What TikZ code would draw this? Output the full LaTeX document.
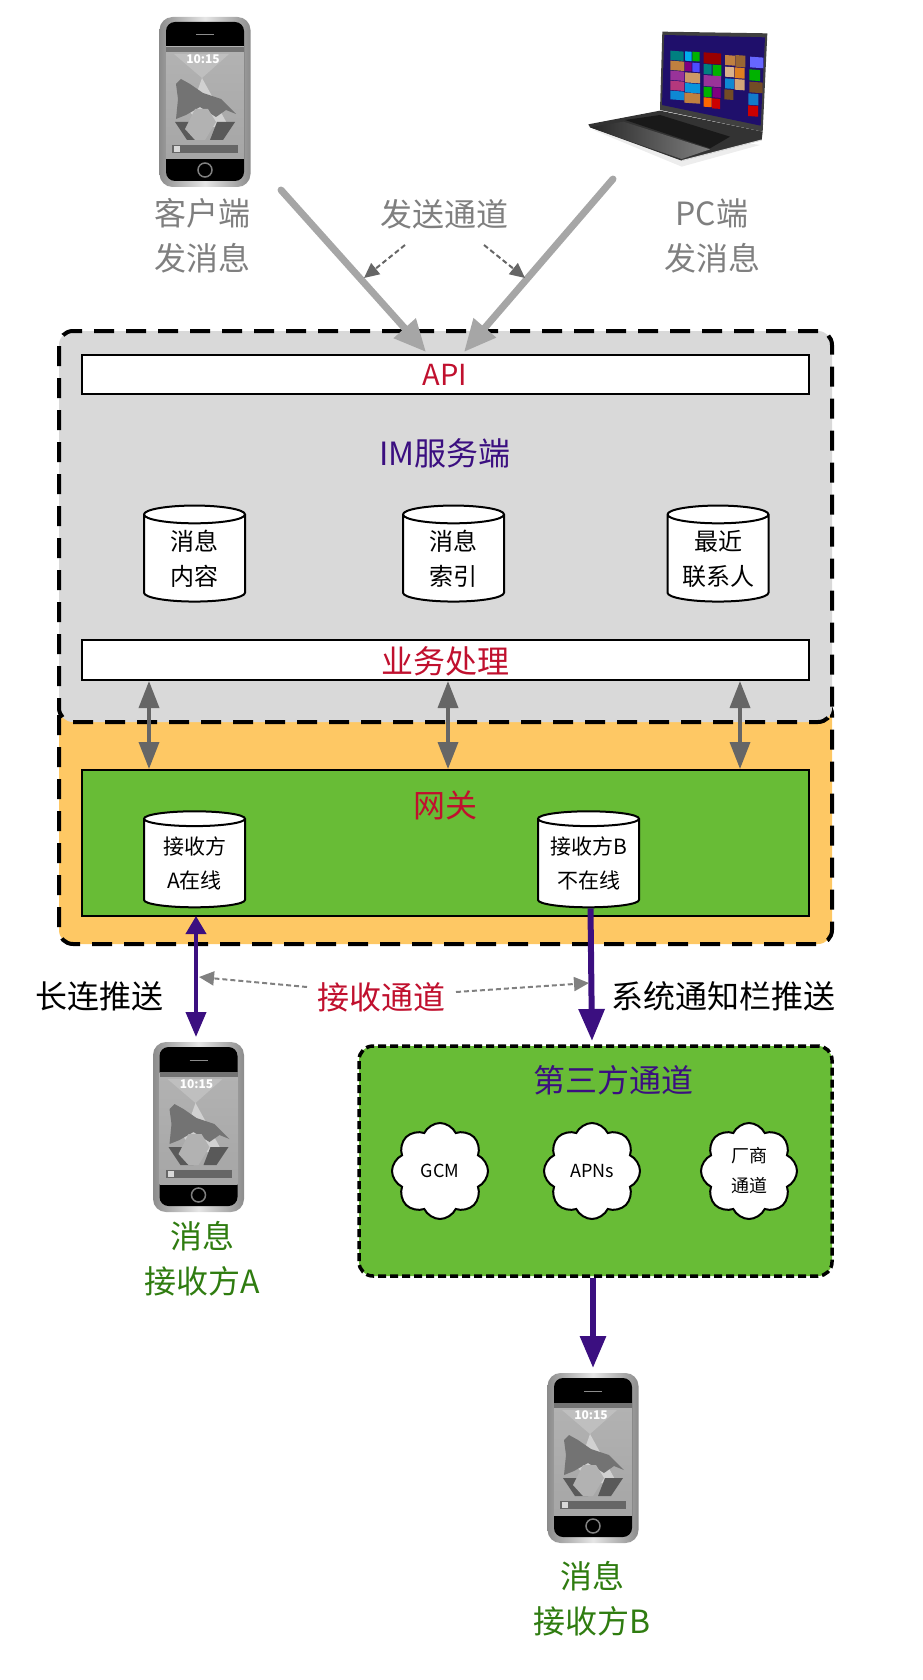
\documentclass[tikz,border=0pt]{standalone}
\usepackage{fontspec}
\setmainfont{Noto Sans CJK SC}
\usetikzlibrary{arrows.meta, shapes.geometric, shapes.symbols}

\definecolor{boxgrey}{HTML}{D9D9D9}
\definecolor{gateorange}{HTML}{FEC864}
\definecolor{gategreen}{HTML}{68BC36}
\definecolor{labelred}{HTML}{C0102E}
\definecolor{labelpurple}{HTML}{3B0F80}
\definecolor{labelgreen}{HTML}{2F7C10}
\definecolor{labelgrey}{HTML}{7F7F7F}
\definecolor{screenblue}{HTML}{1F0F6B}

\tikzset{
	bigtext/.style = {font = \fontsize{32}{45}\selectfont, align = center, inner sep = 0},
	midtext/.style = {font = \fontsize{24}{35}\selectfont, align = center, inner sep = 0},
	smalltext/.style = {font = \fontsize{18}{30}\selectfont, align = center, inner sep = 0},
	outerbox/.style = {draw, rectangle, rounded corners = 14, line width = 4, dash pattern = on 20 off 12, inner sep = 0},
	barbox/.style = {draw, rectangle, line width = 2, fill = white, inner sep = 0, minimum width = 727},
	store/.style = {draw, cylinder, shape border rotate = 90, aspect = 0.37, fill = white, line width = 2, inner sep = 0, minimum width = 101, minimum height = 96, midtext},
	puff/.style = {draw, cloud, cloud puffs = 8, cloud puff arc = 130, fill = white, line width = 2, inner sep = 0, minimum width = 96, minimum height = 96, smalltext},
	phonebody/.style = {rectangle, rounded corners = 13, minimum width = 91, minimum height = 170, inner sep = 0, left color = black!45, right color = black!45, middle color = black!10},
	sendline/.style = {-{Triangle[length = 32, width = 28]}, line width = 7, line cap = round, black!35},
	noteline/.style = {-{Triangle[length = 15, width = 14]}, line width = 2, dash pattern = on 5 off 3},
	linkline/.style = {{Triangle[length = 27, width = 20]}-{Triangle[length = 27, width = 20]}, line width = 3.5, black!60},
	pushline/.style = {-{Triangle[length = 32, width = 25]}, line width = 6, labelpurple},
	phonepic/.pic = {
		\fill [black, rounded corners = 9] (-39, -80) rectangle (39, 79);
		\fill [top color = black!30, middle color = white, bottom color = black!35] (-39, -55) rectangle (39, 57);
		\fill [black!55] (-39, -55) rectangle (39, -50);
		\draw [black!45, line width = 1] (-9, -67) -- (9, -67);
		\fill [black!25] (-31, -48) -- (24, -48) -- (-3, -24) -- cycle;
		\fill [black!18] (-3, -24) -- (24, 25) -- (-3, 25) -- (-15, 10) -- cycle;
		\fill [black!55] (-29, 17) -- (-27, -3) -- (-29, -18) -- (-24, -23) -- (-15, -18) -- (-2, -9) -- (16, -3) -- (31, 12) -- (21, 8) -- (11, 15) -- (-5, 5) -- (-19, 13) -- cycle;
		\fill [black!65] (-30, 20) -- (-10, 20) -- (-5, 38) -- (-18, 38) -- cycle;
		\fill [black!65] (30, 20) -- (12, 20) -- (5, 38) -- (18, 38) -- cycle;
		\fill [black!30] (-20, 27) -- (-10, 7) -- (3, 7) -- (11, 20) -- (0, 38) -- (-10, 38) -- cycle;
		\node [font = \bfseries\fontsize{12}{12}\selectfont, white, inner sep = 0] (clock) at (-2, -43) {10:15};
		\fill [black!60] (-33, 43) rectangle (33, 51);
		\fill [black!15] (-31, 44) rectangle (-25, 50);
		\draw [black!50, line width = 1.5] (0, 68) circle (7);
	}
}

\begin{document}
\begin{tikzpicture}[x = 1pt, y = -1pt]

	\useasboundingbox (0, 0) rectangle (922, 1680);

	% Senders

	\node [phonebody] (phoneC) at (205, 102) {};
	\pic at (phoneC) {phonepic};
	\node [bigtext, labelgrey] (labelC) at (202, 236) {客户端\\发消息};

	% Laptop, traced at three times its size

	\begin{scope}[shift = {(570, 10)}, scale = 1/3]
		\fill [black!7] (70, 360) -- (335, 470) -- (570, 405) -- (400, 380) -- cycle;
		\fill [black!80] (55, 343) -- (270, 302) -- (578, 365) -- (575, 390) -- (335, 452) -- (60, 352) -- cycle;
		\shade [left color = black!85, right color = black!50] (60, 352) -- (160, 335) -- (420, 418) -- (335, 447) -- cycle;
		\fill [black!90] (165, 330) -- (270, 315) -- (480, 380) -- (420, 415) -- cycle;
		\draw [black!15, line width = 1] (335, 452) -- (575, 390);
		\fill [black!75] (277, 65) -- (592, 70) -- (578, 365) -- (270, 300) -- cycle;
		\fill [screenblue] (283, 75) -- (585, 82) -- (572, 347) -- (276, 285) -- cycle;
		\foreach \x/\y/\w/\h/\c in {
			301/122/40/28/teal, 345/124/20/28/cyan, 367/125/22/28/green!70!black,
			301/152/42/28/brown, 345/156/20/27/violet, 367/158/22/27/blue!70,
			301/182/42/28/violet!80, 345/187/45/30/brown!80,
			301/212/42/28/magenta!70!black, 345/219/45/28/cyan!80!blue,
			301/242/42/26/cyan!70!blue, 343/248/47/30/brown,
			401/127/52/33/red!60!black, 401/162/24/30/teal, 428/164/26/33/green!70!black,
			401/195/52/33/violet!80, 401/230/24/30/green!70!black, 428/232/24/30/violet,
			401/262/24/28/orange!80!red, 426/265/24/30/red!80!black,
			465/135/30/30/brown, 496/135/30/35/brown!80!black,
			465/170/27/30/brown!60, 494/172/30/32/orange!50!brown,
			465/205/27/30/cyan!70!blue, 494/207/30/32/brown!70,
			463/238/27/30/brown!60!black,
			540/140/40/32/blue!60, 538/178/32/33/green!70!black,
			538/215/40/32/brown!60!black, 535/250/30/34/cyan!60!blue, 534/286/30/32/red!80!black}
		{
			\fill [\c] (\x, \y) -- ++(\w, {\w * 0.07}) -- ++(0, \h) -- ++(-\w, {-\w * 0.07}) -- cycle;
		}
	\end{scope}
	\node [bigtext, labelgrey] (labelPC) at (712, 236) {PC端\\发消息};

	% Server and gateway frames

	\node [outerbox, fill = gateorange, minimum width = 773, minimum height = 244] (gateframe) at (445.5, 822) {};
	\node [outerbox, fill = boxgrey, minimum width = 773, minimum height = 391] (imframe) at (445.5, 526.5) {};

	\node [barbox, minimum height = 39] (apibar) at (445, 374) {};
	\node [bigtext, font = \fontsize{29}{40}\selectfont, labelred] (apitext) at (445, 375) {API};
	\node [bigtext, labelpurple] (imtext) at (445, 453) {IM服务端};

	\node [store] (msgbody) at (194.5, 558.5) {消息\\内容};
	\node [store] (msgindex) at (453.5, 558.5) {消息\\索引};
	\node [store] (recent) at (718, 558.5) {最近\\\makebox[0pt]{联系人}};

	\node [barbox, minimum height = 40] (bizbar) at (445, 660) {};
	\node [bigtext, labelred] (biztext) at (445, 661) {业务处理};

	\node [draw, rectangle, line width = 2, fill = gategreen, minimum width = 727, minimum height = 146, inner sep = 0] (gatebar) at (445, 843) {};
	\node [bigtext, labelred] (gatetext) at (445, 805) {网关};

	\node [store, font = \fontsize{21}{34}\selectfont] (recvA) at (194.5, 863.5) {\makebox[40pt]{接收方}\\\makebox[40pt]{A在线}};
	\node [store, font = \fontsize{21}{34}\selectfont] (recvB) at (588.5, 863.5) {\makebox[40pt]{接收方B}\\\makebox[40pt]{不在线}};

	% Sending channel

	\coordinate (sendCfrom) at (281, 190);
	\coordinate (sendCto) at (426, 352);
	\coordinate (sendPCfrom) at (613, 179);
	\coordinate (sendPCto) at (464, 352);

	\draw [sendline] (sendCfrom) -- (sendCto);
	\draw [sendline] (sendPCfrom) -- (sendPCto);

	\node [bigtext, labelgrey] (sendtext) at (444, 214) {发送通道};
	\coordinate (noteCto) at (364, 278);
	\coordinate (notePCto) at (525, 278);
	\coordinate (noteCfrom) at (405, 245);
	\coordinate (notePCfrom) at (484, 245);
	\draw [noteline, black!60] (noteCfrom) -- (noteCto);
	\draw [noteline, black!60] (notePCfrom) -- (notePCto);

	% Links from server to gateway

	\coordinate (linkA) at (149, 725);
	\coordinate (linkB) at (448, 725);
	\coordinate (linkC) at (740, 725);
	\foreach \l in {linkA, linkB, linkC}
		\draw [linkline] (\l |- bizbar.south) -- (\l |- gatebar.north);

	% Receiver A

	\node [phonebody] (phoneA) at (198.5, 1127) {};
	\pic at (phoneA) {phonepic};
	\node [bigtext, labelgreen] (labelA) at (202, 1259) {消息\\接收方A};
	\coordinate (pushAtop) at (196, 916);
	\coordinate (pushAend) at (196, 1037);
	\draw [{Triangle[length = 18, width = 20]}-{Triangle[length = 25, width = 20]}, line width = 4, labelpurple] (pushAtop) -- (pushAend);
	\node [bigtext] (longtext) at (99, 996) {长连推送};

	% Third party channel

	\node [outerbox, line width = 3.5, dash pattern = on 8 off 4, fill = gategreen, minimum width = 473, minimum height = 230] (thirdframe) at (595.5, 1161) {};
	\node [bigtext, labelpurple] (thirdtext) at (613, 1080) {第三方通道};
	\node [puff] (gcm) at (440, 1171) {GCM};
	\node [puff] (apns) at (592, 1171) {APNs};
	\node [puff] (vendor) at (749, 1171) {厂商\\通道};

	\coordinate (pushBend) at (592, 1041);
	\draw [pushline] ([xshift = 2]recvB.south) -- (pushBend);
	\node [bigtext] (systext) at (723, 996) {系统通知栏推送};

	% Receiving channel

	\node [bigtext, labelred] (recvtext) at (381, 997) {接收通道};
	\coordinate (noteAfrom) at (307, 987);
	\coordinate (noteAto) at (199, 977);
	\coordinate (noteBfrom) at (456, 992);
	\coordinate (noteBto) at (589, 983);
	\draw [noteline, black!50] (noteAfrom) -- (noteAto);
	\draw [noteline, black!50] (noteBfrom) -- (noteBto);

	% Receiver B

	\node [phonebody] (phoneB) at (593, 1458) {};
	\pic at (phoneB) {phonepic};
	\node [bigtext, labelgreen] (labelB) at (592, 1599) {消息\\接收方B};
	\coordinate (pushCend) at (593, 1368);
	\draw [pushline] (thirdframe.south -| pushCend) -- (pushCend);

\end{tikzpicture}
\end{document}
